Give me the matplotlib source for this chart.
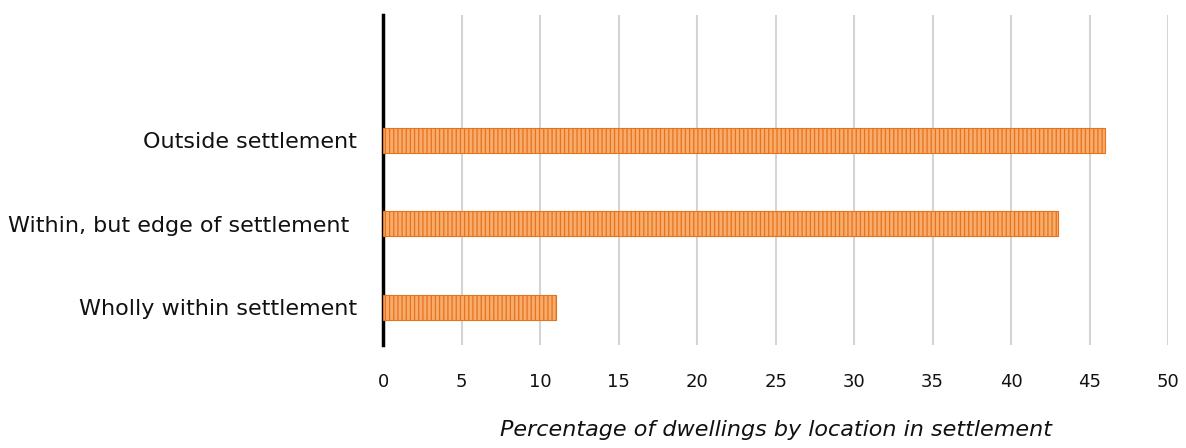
import matplotlib.pyplot as plt

# dwellings by location relative to settlement boundary (%)
categories = ['Wholly within settlement', 'Within, but edge of settlement ', 'Outside settlement']
values = [11, 43, 46]
xticks = [0, 5, 10, 15, 20, 25, 30, 35, 40, 45, 50]

plt.rcParams['font.family'] = ['DejaVu Sans']
plt.rcParams['hatch.linewidth'] = 0.9

fig = plt.figure(figsize=(11.86, 4.48), dpi=100)
ax = fig.add_axes([0.323, 0.23, 0.662, 0.737])

ax.barh(range(len(categories)), values, height=0.3, color='#f8ac6c',
        edgecolor='#e8711c', hatch='||||', linewidth=0.8, zorder=3)

ax.set_xlim(0, 50)
ax.set_ylim(-0.45, 3.5)
ax.set_xticks(xticks)
ax.set_yticks(range(len(categories)))
ax.set_yticklabels(categories, fontsize=16, color='#111111')
ax.tick_params(axis='x', labelsize=13, labelcolor='#111111', length=0, pad=20)
ax.tick_params(axis='y', length=0, pad=19)

ax.grid(axis='x', color='#d4d4d4', linewidth=1.5, zorder=0)
for side in ['top', 'right', 'bottom']:
    ax.spines[side].set_visible(False)
ax.spines['left'].set_linewidth(2.5)
ax.spines['left'].set_color('black')

ax.set_xlabel('Percentage of dwellings by location in settlement',
              fontsize=16, style='italic', color='#111111', labelpad=21)

plt.savefig('out.png', dpi=100)
